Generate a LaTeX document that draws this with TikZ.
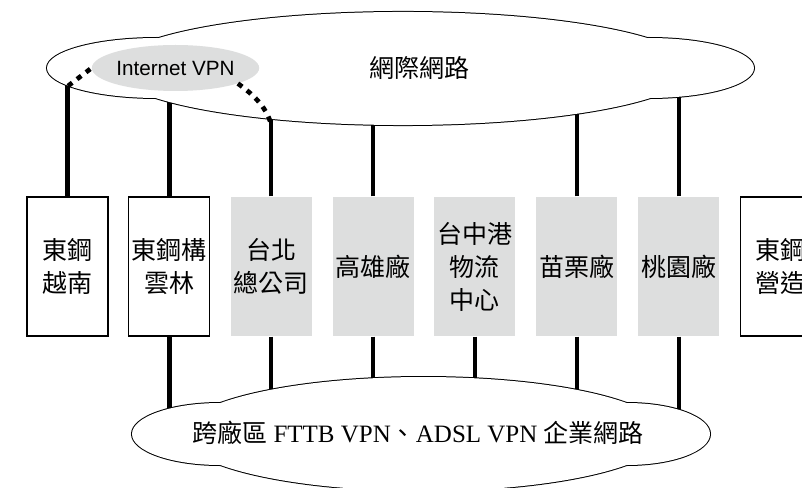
\documentclass[tikz,border=0pt]{standalone}
\usepackage{fontspec}
\setmainfont{Liberation Serif}
\newfontfamily\cjk{Noto Sans CJK TC}
\newfontfamily\vpnsans{Liberation Sans}
\usetikzlibrary{positioning, shapes.geometric}
\definecolor{boxgray}{RGB}{221,222,222}

\begin{document}
\begin{tikzpicture}[x = 0.75pt, y = -0.75pt, node distance = 76.4pt, on grid,
    site/.style = {rectangle, draw, line width = 0.8pt, minimum width = 60.75pt,
      minimum height = 104.25pt, inner sep = 0pt, align = center,
      font = \fontsize{18.75}{24.75}\cjk},
    plant/.style = {site, draw = none, fill = boxgray},
    link/.style = {line width = 3.2pt},
    vpnlink/.style = {line width = 3.5pt, dash pattern = on 4pt off 4.5pt},
    cloud/.style = {draw, line width = 1.5pt, postaction = {fill = white}}]
  \useasboundingbox (0,0) rectangle (802,488);
  \clip (0,0) rectangle (802,488);

  \node[site] (0) at (67.5,266.5) {東鋼\\越南};
  \node[site] [right=of 0] (1) {東鋼構\\雲林};
  \node[plant] [right=of 1] (2) {台北\\總公司};
  \node[plant] [right=of 2] (3) {高雄廠};
  \node[plant] [right=of 3] (4) {台中港\\物流\\中心};
  \node[plant] [right=of 4] (5) {苗栗廠};
  \node[plant] [right=of 5] (6) {桃園廠};
  \node[site] [right=of 6] (7) {東鋼\\營造};

  \coordinate (topc) at (403,68);
  \coordinate (botc) at (423,434);
  \path[link]
    (0.north) edge (0.north |- topc)
    (1.north) edge (1.north |- topc)
    (2.north) edge (2.north |- topc)
    (3.north) edge (3.north |- topc)
    (5.north) edge (5.north |- topc)
    (6.north) edge (6.north |- topc)
    (1.south) edge (1.south |- botc)
    (2.south) edge (2.south |- botc)
    (3.south) edge (3.south |- botc)
    (4.south) edge (4.south |- botc)
    (5.south) edge (5.south |- botc)
    (6.south) edge (6.south |- botc);

  % clouds: main body plus two side lobes
  \path[cloud] (403,68.5) ellipse [x radius = 217.5pt, y radius = 42.4pt]
               (157,68) ellipse [x radius = 82.5pt, y radius = 22.5pt]
               (649,68) ellipse [x radius = 78.75pt, y radius = 22.5pt];
  \path[cloud] (423.5,434) ellipse [x radius = 181.5pt, y radius = 42.75pt]
               (220,434) ellipse [x radius = 66pt, y radius = 23.25pt]
               (627,434) ellipse [x radius = 62.25pt, y radius = 23.25pt];

  \node[font = \fontsize{18.75}{22}\cjk] (inet) at (419,68) {網際網路};
  \node[font = \fontsize{18.75}{22}\selectfont] (ent) at (418,433)
    {{\cjk 跨廠區} FTTB VPN{\cjk 、}ADSL VPN {\cjk 企業網路}};
  \node[ellipse, fill = boxgray, minimum width = 114.75pt, minimum height = 34.5pt,
    inner sep = 0pt, font = \fontsize{15.5}{18}\vpnsans] (vpn) at (175.5,68) {Internet VPN};

  \coordinate (p0) at (68,86);
  \coordinate (p2) at (271,124);
  \draw[vpnlink] (p0) -- (vpn.west);
  \draw[vpnlink] (vpn.-14) .. controls +(14,10) and +(-5,-18) .. (p2);
\end{tikzpicture}
\end{document}
